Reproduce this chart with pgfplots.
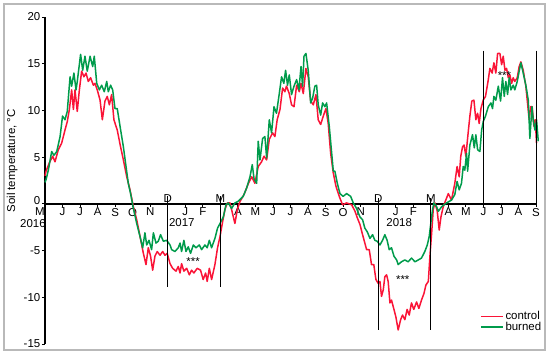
\documentclass[border=0pt]{standalone}
\usepackage{fontspec}
\setmainfont{Liberation Sans}
\usepackage{pgfplots}
\pgfplotsset{compat=1.18}
\usetikzlibrary{calc}
\definecolor{ctrl}{RGB}{250,20,55}
\definecolor{burn}{RGB}{0,155,75}
\newcommand{\lblfont}{\fontsize{11.5}{13}\selectfont}

\begin{document}
\begin{tikzpicture}
\begin{axis}[
  name=ax,
  scale only axis, width=491bp, height=327bp,
  xmin=0, xmax=28, ymin=-15, ymax=20,
  clip=false,
  axis x line*=middle, axis y line*=left,
  axis line style={-, black, line width=1.3bp},
  hide obscured x ticks=false, hide obscured y ticks=false,
  tick align=outside, major tick length=3bp,
  tick style={black, line width=0.8bp},
  xtick={0,1,2,3,4,5,6,8,9,11,12,13,14,15,16,17,18,20,21,23,24,25,26,27,28},
  xticklabels={M\hspace*{10pt},J,J,A,S,O,N,J,F,A,M,J,J,A,S,O,N,J,F,A,M,J,J,A,S},
  xticklabel style={font=\lblfont, inner sep=1bp},
  extra x ticks={7,10,19,22},
  extra x tick labels={D,M,D,M},
  extra x tick style={xticklabel style={anchor=south, yshift=3bp}},
  ytick={-15,-10,-5,0,5,10,15,20},
  yticklabels={-15,-10,-5,\raisebox{7bp}{0},5,10,15,20},
  yticklabel style={font=\lblfont, inner sep=1.5bp},
  ylabel={Soil temperature, °C},
  ylabel style={font=\lblfont, at={(axis description cs:-0.067,0.56)}, anchor=center},
  legend cell align=left,
  legend style={draw=none, fill=none, font=\lblfont, at={(axis description cs:1.015,0.03)},
    anchor=south east, row sep=-3bp, inner sep=0pt},
  legend image code/.code={\draw[#1, line width=1.5bp] (0bp,0bp) -- (22bp,0bp);},
  every axis plot/.append style={line width=1.5bp, line join=round},
]
\addplot[ctrl] coordinates {
(0.0,3.0) (0.06,3.5) (0.25,4.4) (0.44,5.1) (0.57,4.5) (0.76,5.8) (0.95,6.5) (1.14,7.9) (1.27,8.8) (1.39,10.1)
(1.52,12.2) (1.62,10.1) (1.71,12.2) (1.84,9.9) (1.96,12.2) (2.09,14.2) (2.22,13.6) (2.34,14.0) (2.47,13.1) (2.6,13.5)
(2.76,12.7) (2.85,12.9) (2.98,12.2) (3.14,11.1) (3.27,9.0) (3.42,11.0) (3.55,11.5) (3.67,10.6) (3.8,11.7) (3.93,9.0)
(4.12,7.9) (4.31,6.1) (4.47,4.7) (4.66,2.9) (4.85,1.5) (5.04,-0.3) (5.23,-1.7) (5.42,-3.5) (5.61,-5.3) (5.76,-6.5)
(5.89,-4.7) (6.02,-5.6) (6.14,-7.1) (6.27,-5.6) (6.4,-5.1) (6.56,-5.5) (6.71,-5.1) (6.84,-5.5) (6.97,-5.3) (7.13,-6.4)
(7.28,-6.9) (7.47,-7.2) (7.6,-6.7) (7.7,-7.4) (7.79,-6.4) (7.92,-7.2) (8.08,-6.9) (8.23,-7.6) (8.36,-7.1) (8.49,-7.4)
(8.68,-6.9) (8.87,-7.1) (9.02,-8.1) (9.16,-7.4) (9.25,-8.3) (9.37,-6.9) (9.5,-8.1) (9.69,-6.5) (9.84,-4.7) (9.98,-3.5)
(10.13,-1.9) (10.26,-0.6) (10.4,0.1) (10.55,0.1) (10.74,-1.4) (10.83,-2.1) (10.97,-0.6) (11.12,0.25) (11.35,1.0) (11.6,2.2)
(11.79,2.9) (11.97,2.2) (12.16,4.0) (12.35,4.5) (12.49,5.1) (12.64,4.7) (12.79,6.9) (12.98,7.6) (13.11,7.2) (13.24,9.0)
(13.4,10.1) (13.55,12.4) (13.68,12.0) (13.77,12.6) (13.93,11.8) (14.06,10.6) (14.2,10.4) (14.35,12.7) (14.5,12.0) (14.6,12.9)
(14.73,11.8) (14.88,14.5) (15.01,13.6) (15.15,11.0) (15.3,10.6) (15.45,11.7) (15.58,9.0) (15.72,8.5) (15.87,9.4) (16.02,10.2)
(16.15,8.6) (16.29,5.4) (16.44,3.3) (16.59,1.9) (16.78,0.8) (16.97,-0.1) (17.2,0.1) (17.49,-0.1) (17.68,-0.8) (17.81,-1.5)
(17.96,-2.2) (18.11,-3.3) (18.24,-4.2) (18.34,-4.9) (18.49,-4.9) (18.62,-6.5) (18.75,-6.5) (18.87,-8.1) (19.0,-8.5) (19.1,-8.3)
(19.19,-9.9) (19.29,-9.2) (19.38,-7.8) (19.48,-7.6) (19.57,-8.3) (19.67,-10.6) (19.76,-10.3) (19.9,-11.3) (20.01,-12.1) (20.14,-13.5)
(20.28,-12.4) (20.39,-11.9) (20.52,-12.4) (20.65,-11.3) (20.77,-11.9) (20.9,-10.6) (21.03,-11.3) (21.19,-10.5) (21.32,-11.2) (21.47,-10.3)
(21.61,-9.6) (21.72,-8.7) (21.86,-8.3) (21.95,-5.6) (22.05,-3.1) (22.14,-0.6) (22.24,0.1) (22.37,-0.8) (22.48,-2.8) (22.58,-1.4)
(22.71,-0.3) (23.0,1.1) (23.18,0.4) (23.37,2.2) (23.5,4.0) (23.62,2.9) (23.71,5.1) (23.81,6.1) (23.9,6.3) (24.0,5.1)
(24.13,7.6) (24.23,9.4) (24.34,11.0) (24.46,11.1) (24.57,9.0) (24.67,9.7) (24.76,8.6) (24.86,10.2) (24.99,11.1) (25.12,11.5)
(25.28,13.3) (25.37,14.5) (25.5,14.0) (25.6,15.1) (25.71,14.0) (25.81,16.1) (25.94,16.1) (26.04,14.9) (26.13,15.8) (26.23,14.3)
(26.32,14.5) (26.42,13.5) (26.51,13.8) (26.61,12.9) (26.7,13.5) (26.79,13.1) (26.93,13.5) (27.04,14.7) (27.14,15.2) (27.27,14.3)
(27.42,12.6) (27.5,11.1) (27.61,9.0) (27.69,10.4) (27.78,10.4) (27.88,8.3) (27.96,9.0) (28.03,6.5)
};
\addlegendentry{control}
\addplot[burn] coordinates {
(0.0,2.3) (0.06,2.6) (0.19,3.6) (0.38,5.6) (0.51,5.2) (0.67,5.6) (0.86,7.2) (1.0,9.4) (1.14,9.0) (1.27,9.9)
(1.43,13.6) (1.52,12.6) (1.65,14.0) (1.77,12.2) (1.84,13.1) (2.03,16.0) (2.15,14.3) (2.28,15.8) (2.41,14.2) (2.57,15.8)
(2.72,14.7) (2.81,15.8) (2.95,12.9) (3.1,12.2) (3.23,12.7) (3.38,12.0) (3.52,13.1) (3.61,12.0) (3.74,12.7) (3.86,12.2)
(3.99,10.2) (4.12,10.2) (4.28,8.3) (4.47,6.1) (4.62,4.0) (4.75,2.2) (4.88,1.1) (5.04,-0.5) (5.23,-2.1) (5.42,-3.5)
(5.57,-4.7) (5.7,-3.1) (5.8,-4.4) (5.93,-3.9) (6.08,-4.9) (6.18,-3.1) (6.33,-4.2) (6.46,-4.0) (6.59,-3.3) (6.75,-4.0)
(6.94,-3.9) (7.13,-4.4) (7.22,-4.9) (7.41,-5.1) (7.6,-4.7) (7.7,-4.2) (7.79,-5.1) (7.92,-3.9) (8.04,-5.1) (8.17,-4.6)
(8.3,-5.3) (8.46,-4.4) (8.61,-4.7) (8.8,-4.4) (8.93,-4.9) (9.12,-4.4) (9.25,-4.7) (9.37,-3.9) (9.5,-4.7) (9.69,-3.7)
(9.84,-2.6) (9.98,-2.1) (10.17,-1.4) (10.32,-0.1) (10.45,0.1) (10.64,-0.5) (10.83,0.1) (11.0,0.25) (11.3,0.8) (11.5,1.7)
(11.69,2.9) (11.82,4.2) (11.92,2.7) (12.07,2.2) (12.16,6.7) (12.26,4.7) (12.41,7.0) (12.54,7.2) (12.64,4.9) (12.79,9.0)
(12.92,7.6) (13.06,10.4) (13.2,9.7) (13.36,11.8) (13.49,13.6) (13.62,12.9) (13.72,14.3) (13.83,12.7) (13.93,13.8) (14.06,11.7)
(14.2,12.6) (14.35,13.3) (14.48,12.2) (14.6,14.7) (14.69,12.6) (14.77,15.8) (14.88,16.1) (15.01,14.3) (15.15,10.8) (15.26,11.3)
(15.39,12.6) (15.49,12.7) (15.58,10.6) (15.72,9.5) (15.83,10.8) (15.96,10.4) (16.06,10.8) (16.21,8.3) (16.35,5.4) (16.44,3.5)
(16.53,3.5) (16.67,2.2) (16.82,1.1) (17.0,0.8) (17.2,1.1) (17.43,0.8) (17.58,0.1) (17.77,-0.5) (17.96,-1.4) (18.11,-1.7)
(18.24,-2.6) (18.38,-3.0) (18.53,-3.7) (18.68,-3.3) (18.81,-3.9) (18.94,-4.0) (19.1,-4.4) (19.25,-3.9) (19.38,-3.3) (19.51,-3.9)
(19.63,-4.9) (19.76,-4.7) (19.9,-5.6) (20.05,-6.0) (20.14,-6.5) (20.33,-6.2) (20.52,-6.0) (20.71,-6.2) (20.9,-5.8) (21.1,-6.2)
(21.29,-6.0) (21.47,-5.8) (21.66,-5.1) (21.8,-4.4) (21.91,-3.5) (22.0,-2.1) (22.1,-0.6) (22.18,0.1) (22.33,-0.3) (22.43,-0.8)
(22.62,-0.3) (22.9,0.1) (23.18,0.4) (23.37,1.0) (23.5,2.4) (23.62,1.5) (23.75,2.2) (23.85,4.0) (23.94,3.6) (24.04,5.4)
(24.1,3.5) (24.23,6.3) (24.38,7.4) (24.48,6.0) (24.57,7.4) (24.67,5.8) (24.8,5.6) (24.9,7.9) (24.99,8.8) (25.12,9.4)
(25.28,10.4) (25.43,10.8) (25.52,10.2) (25.6,11.5) (25.71,11.1) (25.85,12.6) (25.98,11.0) (26.09,13.5) (26.19,11.5) (26.28,13.1)
(26.38,11.7) (26.47,13.5) (26.57,12.2) (26.7,12.7) (26.79,12.2) (26.93,13.1) (27.04,14.2) (27.14,15.1) (27.27,14.0) (27.42,12.7)
(27.56,11.1) (27.65,7.0) (27.77,10.4) (27.84,9.0) (27.94,7.9) (28.03,9.0) (28.13,6.7)
};
\addlegendentry{burned}
% period markers
\addplot[black, line width=1bp, forget plot] coordinates {(7,0.8) (7,-8.85)};
\addplot[black, line width=1bp, forget plot] coordinates {(10,0.8) (10,-8.85)};
\addplot[black, line width=1bp, forget plot] coordinates {(19,0.6) (19,-13.5)};
\addplot[black, line width=1bp, forget plot] coordinates {(22,0.6) (22,-13.5)};
\addplot[black, line width=1bp, forget plot] coordinates {(25,16.4) (25,0)};
\addplot[black, line width=1bp, forget plot] coordinates {(28,16.4) (28,0)};
% years and significance
\node[font=\lblfont, anchor=east, inner sep=0pt] at (axis cs:0.05,-2.1) {2016};
\node[font=\lblfont, inner sep=0pt] at (axis cs:7.8,-2.0) {2017};
\node[font=\lblfont, inner sep=0pt] at (axis cs:20.2,-2.0) {2018};
\node[font=\lblfont, inner sep=0pt] at (axis cs:8.45,-6.2) {***};
\node[font=\lblfont, inner sep=0pt] at (axis cs:20.4,-8.1) {***};
\node[font=\lblfont, inner sep=0pt] at (axis cs:26.2,13.7) {***};
\end{axis}
\pgfresetboundingbox
\draw[gray!55, line width=1.2bp] ($(ax.south west)+(-41bp,-6bp)$) rectangle ($(ax.south west)+(500bp,340bp)$);
\path[use as bounding box] ($(ax.south west)+(-45bp,-11bp)$) rectangle ($(ax.south west)+(505bp,344bp)$);
\end{tikzpicture}
\end{document}
